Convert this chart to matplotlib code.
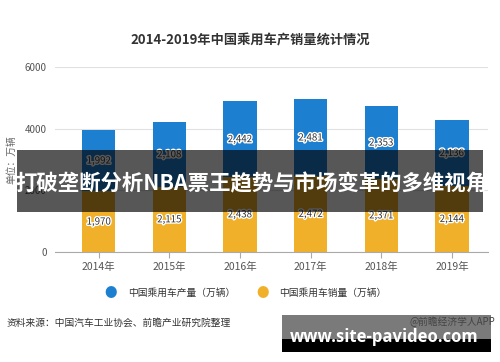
import numpy as np
import matplotlib.pyplot as plt
import matplotlib.patheffects as pe
from matplotlib.patches import Rectangle

plt.rcParams['font.family'] = ['Noto Sans CJK SC', 'DejaVu Sans']

years = ['2014年', '2015年', '2016年', '2017年', '2018年', '2019年']
production = [1992, 2108, 2442, 2481, 2353, 2136]
sales = [1970, 2115, 2438, 2472, 2371, 2144]

blue = '#1d7fd0'
yellow = '#f0b02a'

fig = plt.figure(figsize=(5.0, 3.62), dpi=100)
ax = fig.add_axes([0.11, 0.304, 0.866, 0.511])

x = np.arange(len(years))
b1 = ax.bar(x, sales, width=0.47, color=yellow, zorder=2)
b2 = ax.bar(x, production, width=0.47, bottom=sales, color=blue, zorder=2)

halo = [pe.withStroke(linewidth=2, foreground='white')]
for i in range(len(years)):
    ax.text(x[i], sales[i] / 2, f'{sales[i]:,}', ha='center', va='center',
            fontsize=7, color='#333333', path_effects=halo, zorder=3)
    ax.text(x[i], sales[i] + production[i] / 2, f'{production[i]:,}', ha='center',
            va='center', fontsize=7, color='#333333', path_effects=halo, zorder=3)

ax.set_xlim(-0.62, 5.51)
ax.set_ylim(0, 6000)
ax.set_yticks([0, 2000, 4000, 6000])
ax.set_xticks(x)
ax.set_xticklabels(years)
ax.grid(axis='y', color='#e0e0e0', linewidth=0.8, zorder=0)
for s in ['top', 'right', 'left']:
    ax.spines[s].set_visible(False)
ax.spines['bottom'].set_color('#aaaaaa')
ax.tick_params(axis='y', length=0, labelsize=7, labelcolor='#555555', pad=6)
ax.tick_params(axis='x', length=4, color='#aaaaaa', labelsize=7.5, labelcolor='#555555')
ax.set_ylabel('单位：万辆', fontsize=7, color='#666666', labelpad=6)

fig.text(0.5, 1 - 40 / 362, '2014-2019年中国乘用车产销量统计情况', ha='center', va='center',
         fontsize=9.5, fontweight='bold', color='#333333')

leg = ax.legend([b2, b1], ['中国乘用车产量（万辆）', '中国乘用车销量（万辆）'], ncol=2,
                loc='center', bbox_to_anchor=(0.5, 1 - 293 / 362),
                bbox_transform=fig.transFigure, frameon=False, fontsize=7,
                handlelength=0.9, handleheight=0.9, columnspacing=3.0, handletextpad=0.6)
for h in leg.legend_handles:
    h.set_visible(False)
fig.text(111 / 500, 1 - 293 / 362, '●', color=blue, fontsize=9, ha='center', va='center')
fig.text(263 / 500, 1 - 293 / 362, '●', color=yellow, fontsize=9, ha='center', va='center')
for t in leg.get_texts():
    t.set_color('#333333')

fig.text(7 / 500, 1 - 323 / 362, '资料来源：中国汽车工业协会、前瞻产业研究院整理', ha='left', va='center',
         fontsize=7, color='#333333')

# overlay band
fig.patches.append(Rectangle((17 / 500, 1 - 212 / 362), 466 / 500, 62 / 362, transform=fig.transFigure,
                             facecolor='black', edgecolor='none', alpha=0.66, zorder=5))
fig.text(251 / 500, 1 - 184 / 362, '打破垄断分析NBA票王趋势与市场变革的多维视角', ha='center', va='center',
         fontsize=15.4, fontweight='bold', color='white', zorder=6)

# bottom watermark
fig.patches.append(Rectangle((282 / 500, 1 - 339 / 362), 209 / 500, 24 / 362, transform=fig.transFigure,
                             facecolor='#7a7a7a', edgecolor='none', zorder=5))
fig.patches.append(Rectangle((282 / 500, 1 - 352 / 362), 209 / 500, 13 / 362, transform=fig.transFigure,
                             facecolor='black', edgecolor='none', zorder=5))
fig.text(495 / 500, 1 - 322 / 362, '@前瞻经济学人APP', ha='right', va='center',
         fontsize=7, color='#444444', zorder=6)
fig.text(384 / 500, 1 - 337 / 362, 'www.site-pavideo.com', ha='center', va='center',
         fontsize=12, fontweight='bold', color='white', family='Open Sans', zorder=7)

fig.savefig('out.png', dpi=100)
